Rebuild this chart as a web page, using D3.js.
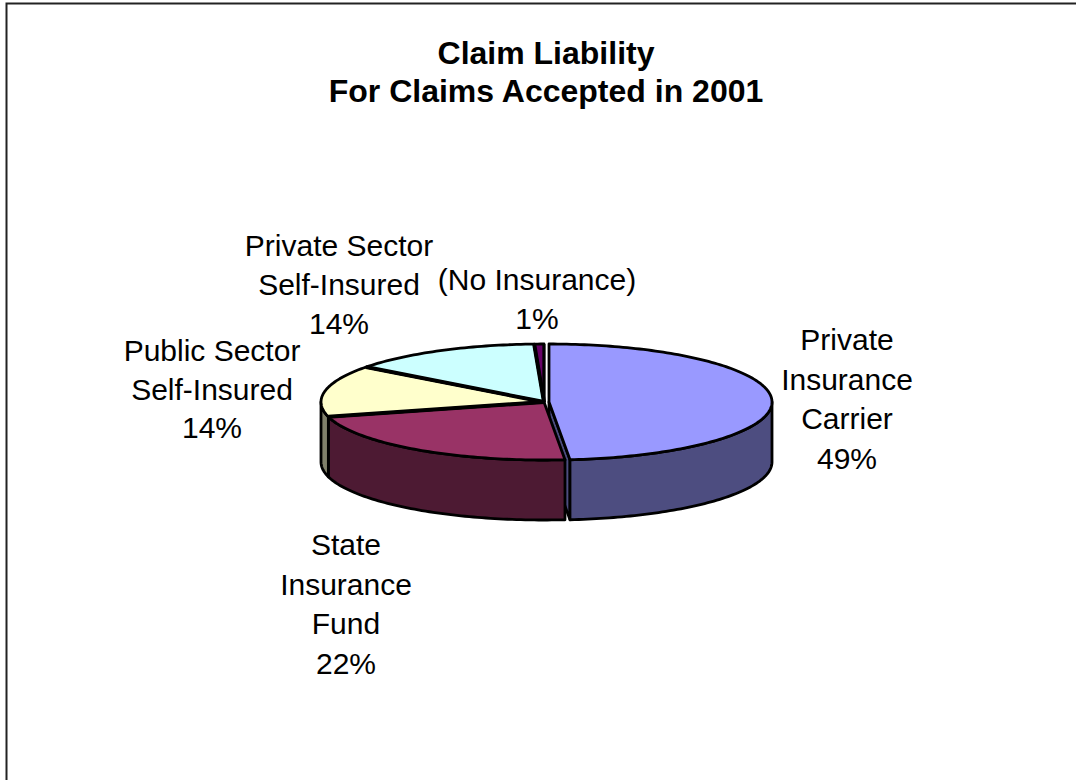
<!DOCTYPE html>
<html><head><meta charset="utf-8">
<script src="https://cdn.jsdelivr.net/npm/d3@7"></script>
<style>html,body{margin:0;padding:0;background:#fff}svg{display:block}text{font-family:"Liberation Sans",Arial,sans-serif;fill:#000}</style>
</head><body><svg id="c" width="1076" height="780"></svg>
<script>
const categories=["Private Insurance Carrier","State Insurance Fund","Public Sector Self-Insured","Private Sector Self-Insured","(No Insurance)"];
const values=[48.5,22.4,14.4,14.0,0.7];
const topColors=["#9999FF","#993366","#FFFFCC","#CCFFFF","#660066"];
const sideColors=["#4D4D80","#4D1A33","#80806A","#668080","#330033"];
const labelLines=[["Private","Insurance","Carrier"],["State","Insurance","Fund"],["Public Sector","Self-Insured"],["Private Sector","Self-Insured"],["(No Insurance)"]];
const labelAnchors=[[847,350],[346,555],[212,361],[339,256],[537,290]];
const labelSpacing=[39.5,39.7,38.5,39,38.5];
const titleLines=["Claim Liability","For Claims Accepted in 2001"];

const svg=d3.select("#c");
const W=1076,H=780,frameL=6.5,frameT=3.5;
svg.append("path").attr("d",d3.line()([[frameL,H],[frameL,frameT],[W,frameT]])).attr("fill","none").attr("stroke","#222").attr("stroke-width",2);

const rx=223,ry=58,depth=60,cx=544,cy=402,explode=[5,0,0,0,0];
const pie=d3.pie().sort(null).value(d=>d)(values);
const px=d3.scaleLinear().domain([-1,1]).range([-rx,rx]);
const py=d3.scaleLinear().domain([-1,1]).range([-ry,ry]);
const pt=(a,ox,oy,dz=0)=>[ox+px(Math.sin(a)),oy+py(-Math.cos(a))+dz];
const arcPts=(a0,a1,ox,oy,dz=0)=>{const n=Math.max(2,Math.ceil((a1-a0)/0.02));return d3.range(n+1).map(i=>pt(a0+(a1-a0)*i/n,ox,oy,dz));};
const line=d3.line();
const closed=pts=>line(pts)+"Z";
const g=svg.append("g").attr("stroke","#000").attr("stroke-linejoin","round");

pie.forEach((s,i)=>{
  const ox=cx+explode[i],oy=cy;
  // cut face on the closing edge of the exploded slice
  if(explode[i]>0){
    const e=pt(s.endAngle,ox,oy);
    g.append("path").attr("d",closed([[ox,oy],e,[e[0],e[1]+depth],[ox,oy+depth]])).attr("fill",sideColors[i]).attr("stroke-width",2.8);
  }
  // outer wall: only the front half (90deg..270deg) is visible
  const a0=Math.max(s.startAngle,Math.PI/2),a1=Math.min(s.endAngle,Math.PI*1.5);
  if(a1>a0){
    const upper=arcPts(a0,a1,ox,oy),lower=arcPts(a0,a1,ox,oy,depth).reverse();
    g.append("path").attr("d",closed(upper.concat(lower))).attr("fill",sideColors[i]).attr("stroke-width",2.8);
  }
});
pie.forEach((s,i)=>{
  const ox=cx+explode[i],oy=cy;
  g.append("path").attr("d",closed([[ox,oy]].concat(arcPts(s.startAngle,s.endAngle,ox,oy)))).attr("fill",topColors[i]).attr("stroke-width",2.8);
});
// heavy radial dividers between the joined slices
pie.forEach((s,i)=>{
  if(explode[i]>0) return;
  g.append("path").attr("d",line([[cx+explode[i],cy],pt(s.endAngle,cx+explode[i],cy)])).attr("fill","none").attr("stroke-width",i===4?2.8:4);
});

const pct=d3.format(".0f");
labelLines.forEach((lines,i)=>{
  const [x,y]=labelAnchors[i];
  const t=svg.append("text").attr("x",x).attr("y",y).attr("text-anchor","middle").attr("font-size",30);
  lines.concat([pct(values[i])+"%"]).forEach((l,j)=>{
    t.append("tspan").attr("x",x).attr("dy",j?labelSpacing[i]:0).text(l);
  });
});
const tt=svg.append("text").attr("x",546).attr("y",64).attr("text-anchor","middle").attr("font-size",32).attr("font-weight","bold");
titleLines.forEach((l,j)=>tt.append("tspan").attr("x",546).attr("dy",j?38:0).text(l));
</script></body></html>
